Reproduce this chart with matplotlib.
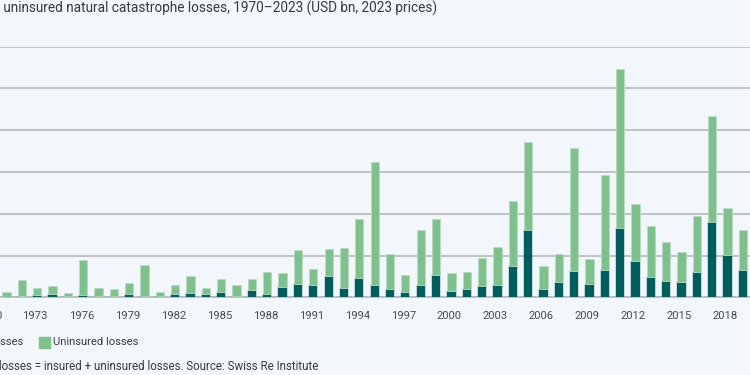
import matplotlib
matplotlib.use("Agg")
import matplotlib.pyplot as plt
from matplotlib.transforms import ScaledTranslation
import numpy as np

# ---- data (USD bn, 2023 prices) ----
years = list(range(1971, 2020))
total_losses = [13, 41, 22, 26, 10, 89, 22, 19, 34, 77,
                13, 30, 52, 22, 43, 30, 43, 60, 57, 113,
                67, 115, 118, 188, 325, 104, 54, 162, 188, 57,
                60, 93, 120, 230, 371, 76, 103, 358, 91, 294,
                547, 224, 171, 133, 109, 195, 435, 215, 160]
insured_losses = [1, 4, 6, 9, 4, 6, 2, 2, 8, 3,
                  2, 8, 10, 8, 13, 2, 17, 8, 24, 33,
                  30, 52, 22, 46, 30, 19, 12, 30, 54, 16,
                  21, 26, 29, 76, 162, 21, 37, 63, 32, 65,
                  166, 87, 49, 39, 37, 61, 180, 102, 65]
uninsured_losses = [t - i for t, i in zip(total_losses, insured_losses)]
tick_years = list(range(1973, 2019, 3))
first_tick_year = 1970

title_text = "Insured and uninsured natural catastrophe losses, 1970–2023 (USD bn, 2023 prices)"
legend_labels = ["Insured losses", "Uninsured losses"]
footnote_text = "Total losses = insured + uninsured losses. Source: Swiss Re Institute"

# ---- style ----
BG = "#f3f7fb"
DARK = "#005e5e"
GREEN = "#7ec18d"
GRID = "#b8b8b8"
TXT = "#3a3a3a"
TICK = "#4a4a4a"
plt.rcParams["font.family"] = ["Roboto", "DejaVu Sans"]

W, H = 750, 375
fig = plt.figure(figsize=(7.5, 3.75), dpi=100, facecolor=BG)
renderer = fig.canvas.get_renderer()


def fit_size(s, target_px, base=10.0):
    t = fig.text(0, 0, s, fontsize=base)
    w = t.get_window_extent(renderer).width
    t.remove()
    return base * target_px / w


base_px, top_px = 297.3, 46.7
ax = fig.add_axes([0, (H - base_px) / H, 1, (base_px - top_px) / H])
ax.set_facecolor(BG)

ax.bar(years, insured_losses, width=0.54, color=DARK, edgecolor=DARK,
       linewidth=0.3, zorder=3)
ax.bar(years, uninsured_losses, width=0.54, bottom=insured_losses,
       color=GREEN, edgecolor="#b9ddc2", linewidth=0.6, zorder=3)

ax.set_yticks(np.arange(0, 601, 100))
ax.set_xticks(tick_years)
tick_fs = fit_size("1973", 25)
ax.set_xticklabels([str(y) for y in tick_years], fontsize=tick_fs, color=TICK)
ax.set_xlim(1970.575, 2019.467)
ax.set_ylim(0, 600)
ax.yaxis.grid(True, color=GRID, linewidth=1.2, zorder=0)
ax.set_axisbelow(True)
for s in ["top", "right", "left"]:
    ax.spines[s].set_visible(False)
ax.spines["bottom"].set_color(GRID)
ax.spines["bottom"].set_linewidth(1.2)
ax.tick_params(axis="y", left=False, labelleft=False)
ax.tick_params(axis="x", length=0, pad=10)
for lab in ax.get_xticklabels():
    lab.set_transform(lab.get_transform() + ScaledTranslation(-2 / 100, 0, fig.dpi_scale_trans))
fig.canvas.draw()
lab0 = ax.get_xticklabels()[0]
ext = lab0.get_window_extent(renderer)
lab_cy = (ext.y0 + ext.y1) / 2
# first year label lies just outside the crop, only its last digit shows
x1970 = ax.transData.transform((first_tick_year, 0))[0] - 2
fig.text(x1970 / W, lab_cy / H, str(first_tick_year), ha="center", va="center",
         fontsize=tick_fs, color=TICK)

# title (cropped at the left edge as in the reference)
title_fs = fit_size("uninsured natural catastrophe losses, 1970–2023 (USD bn, 2023 prices)", 437)
fig.text(437 / W, 1 - 8 / H, title_text, ha="right", va="center",
         fontsize=title_fs, color=TXT)

# legend drawn manually
leg_fs = fit_size(legend_labels[1], 86)
ly = 1 - 342 / H
fig.text(23 / W, ly, legend_labels[0], ha="right", va="center", fontsize=leg_fs, color=TXT)
fig.patches.append(plt.Rectangle((39 / W, ly - 5.5 / H), 11 / W, 11 / H,
                                 transform=fig.transFigure, color=GREEN))
fig.text(53 / W, ly, legend_labels[1], ha="left", va="center", fontsize=leg_fs, color=TXT)

# footnote
foot_fs = fit_size("osses = insured + uninsured losses. Source: Swiss Re Institute", 319)
fig.text(318 / W, 1 - 366 / H, footnote_text, ha="right", va="center",
         fontsize=foot_fs, color=TXT)

fig.savefig("out.png", dpi=100, facecolor=BG)
